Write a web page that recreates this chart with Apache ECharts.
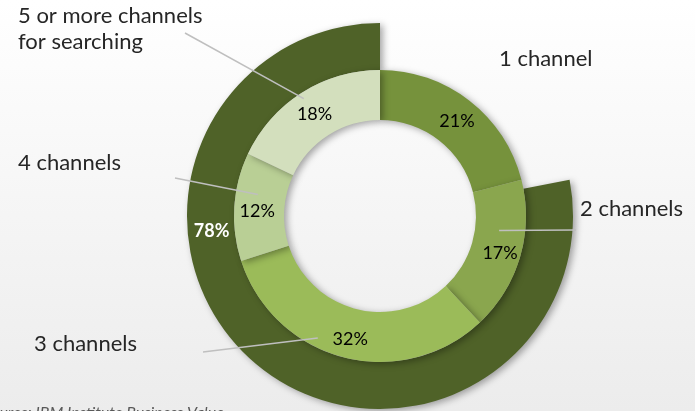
<!DOCTYPE html>
<html>
<head>
<meta charset="utf-8">
<script src="https://cdn.jsdelivr.net/npm/echarts@6/dist/echarts.min.js"></script>
<style>
  html, body { margin: 0; padding: 0; }
  #chart { width: 695px; height: 411px; }
</style>
</head>
<body>
<div id="chart"></div>
<script>
// Number of channels shoppers used while searching (share of respondents, %)
const categories = ['1 channel', '2 channels', '3 channels', '4 channels', '5 or more channels\nfor searching'];
const shares = [21, 17, 32, 12, 18];
// Outer ring: share using two or more channels, preceded by the uncovered gap
const outerLabels = ['', 'Multichannel'];
const outerValues = [22, 78];
const sourceNote = 'Source: IBM Institute Business Value';

const sliceColors = ['#76923c', '#8aa64e', '#9bbb59', '#b9cf95', '#d3dfbd'];
const outerColor = '#4f6228';

const CENTER = [380, 216];
const R_HOLE = 96, R_MID = 146, R_OUT = 193;
const FONT = 'Lato, "Open Sans", sans-serif';

// point at a clock angle (degrees clockwise from 12 o'clock) and radius
function polar(deg, r) {
  const a = deg * Math.PI / 180;
  return [CENTER[0] + r * Math.sin(a), CENTER[1] - r * Math.cos(a)];
}

// where each category name sits and where its leader line points into the ring
const nameLayout = [
  { x: 499, y: 46, line: null },
  { x: 580, y: 196, line: [[576, 230], polar(97, 120)] },
  { x: 34, y: 331, line: [[203, 352], polar(207, 137)] },
  { x: 18, y: 150, line: [[175, 178], polar(280, 124)] },
  { x: 18, y: 3, line: [[185, 33], polar(327, 140)] }
];

const chart = echarts.init(document.getElementById('chart'), null, { renderer: 'canvas' });

const shadow = {
  shadowBlur: 7,
  shadowColor: 'rgba(0,0,0,0.35)',
  shadowOffsetX: 3,
  shadowOffsetY: 2
};

chart.setOption({
  animation: false,
  backgroundColor: {
    type: 'linear', x: 0, y: 0, x2: 0, y2: 1,
    colorStops: [{ offset: 0, color: '#ffffff' }, { offset: 1, color: '#ececec' }]
  },
  graphic: [{
    type: 'text',
    left: -17,
    top: 405,
    style: {
      text: sourceNote,
      font: 'italic 16px ' + FONT,
      fill: '#595959'
    }
  }],
  series: [
    {
      // outer ring
      type: 'pie',
      center: CENTER,
      radius: [R_MID, R_OUT],
      startAngle: 90,
      clockwise: true,
      silent: true,
      z: 1,
      data: outerValues.map((v, i) => ({
        name: outerLabels[i],
        value: v,
        itemStyle: i === 0
          ? { color: 'rgba(0,0,0,0)' }
          : Object.assign({ color: outerColor }, shadow),
        label: { show: i === 1 }
      })),
      label: {
        position: 'inside',
        formatter: '{c}%',
        color: '#ffffff',
        fontWeight: 'bold',
        fontSize: 18,
        fontFamily: FONT
      },
      labelLine: { show: false },
      labelLayout: function () {
        const p = polar(265, 170);
        return { x: p[0] + 1, y: p[1], align: 'center', verticalAlign: 'middle' };
      }
    },
    {
      // inner ring with percentages
      type: 'pie',
      center: CENTER,
      radius: [R_HOLE, R_MID],
      startAngle: 90,
      clockwise: true,
      silent: true,
      z: 2,
      data: shares.map((v, i) => ({
        name: categories[i],
        value: v,
        itemStyle: Object.assign({ color: sliceColors[i] }, shadow)
      })),
      label: {
        position: 'inside',
        formatter: '{c}%',
        color: '#000000',
        fontSize: 18,
        fontFamily: FONT,
        offset: [1, 3]
      },
      labelLine: { show: false }
    },
    {
      // category names with leader lines
      type: 'pie',
      center: CENTER,
      radius: [R_HOLE, R_MID],
      startAngle: 90,
      clockwise: true,
      silent: true,
      z: 5,
      data: shares.map((v, i) => ({
        name: categories[i],
        value: v,
        itemStyle: { color: 'rgba(0,0,0,0)' },
        labelLine: { show: nameLayout[i].line !== null }
      })),
      label: {
        show: true,
        position: 'outside',
        formatter: '{b}',
        color: '#262626',
        fontSize: 22,
        lineHeight: 26,
        fontFamily: FONT
      },
      labelLine: {
        show: true,
        lineStyle: { color: '#bfbfbf', width: 1.5 }
      },
      labelLayout: function (params) {
        const spot = nameLayout[params.dataIndex];
        const out = { x: spot.x, y: spot.y, align: 'left', verticalAlign: 'top' };
        if (spot.line) out.labelLinePoints = spot.line;
        return out;
      }
    }
  ]
});
</script>
</body>
</html>
